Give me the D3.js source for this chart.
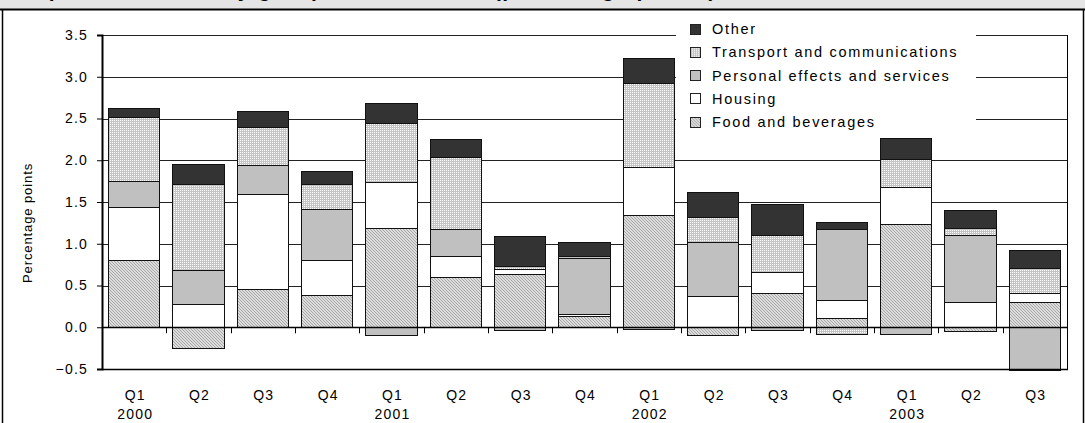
<!DOCTYPE html>
<html>
<head>
<meta charset="utf-8">
<script src="https://cdn.jsdelivr.net/npm/d3@7"></script>
<style>
  body { margin: 0; background: #fff; }
  svg { display: block; }
  text { font-family: Arial, "Liberation Sans", sans-serif; fill: #000; }
</style>
</head>
<body>
<svg id="chart" width="1085" height="423"></svg>
<script>
// Quarterly contributions to CPI inflation, percentage points
const quarters = ["Q1","Q2","Q3","Q4","Q1","Q2","Q3","Q4","Q1","Q2","Q3","Q4","Q1","Q2","Q3"];
const years    = ["2000","","","","2001","","","","2002","","","","2003","",""];

const seriesNames = ["Food and beverages", "Housing", "Personal effects and services",
                     "Transport and communications", "Other"];
const food      = [0.80, -0.25, 0.45, 0.38, 1.18, 0.60, 0.635, 0.125, 1.335, -0.10, 0.405, 0.11, 1.23, -0.055, 0.295];
const housing   = [0.635, 0.27, 1.135, 0.42, 0.55, 0.245, 0.06, 0.025, 0.575, 0.365, 0.25, 0.215, 0.44, 0.295, 0.11];
const personal  = [0.315, 0.41, 0.355, 0.615, -0.10, 0.32, -0.04, 0.675, -0.03, 0.65, -0.04, 0.84, -0.085, 0.805, -0.52];
const transport = [0.76, 1.03, 0.45, 0.295, 0.715, 0.865, 0.03, 0.02, 1.01, 0.295, 0.44, -0.085, 0.34, 0.085, 0.295];
const other     = [0.11, 0.24, 0.19, 0.15, 0.24, 0.22, 0.36, 0.17, 0.295, 0.30, 0.37, 0.085, 0.255, 0.21, 0.215];

const yTicks = [-0.5, 0, 0.5, 1, 1.5, 2, 2.5, 3, 3.5];
const titleText = "Graph 2: Inflation, by group contributions (percentage points)";
const yAxisTitle = "Percentage points";

const svg = d3.select("#chart");
const W = 1085, H = 423;
const plot = { left: 102, right: 1067, top: 35, bottom: 369 };

// Fill patterns for the textured series
const defs = svg.append("defs");
const pDots = defs.append("pattern").attr("id", "pat-transport")
  .attr("width", 2).attr("height", 2).attr("patternUnits", "userSpaceOnUse");
pDots.append("rect").attr("width", 2).attr("height", 2).attr("fill", "#c4c4c4");
pDots.append("rect").attr("width", 1).attr("height", 1).attr("fill", "#ffffff");

const pHatch = defs.append("pattern").attr("id", "pat-food")
  .attr("width", 3).attr("height", 3).attr("patternUnits", "userSpaceOnUse");
pHatch.append("rect").attr("width", 3).attr("height", 3).attr("fill", "#dcdcdc");
[[0,0],[1,1],[2,2]].forEach(([px,py]) =>
  pHatch.append("rect").attr("x", px).attr("y", py).attr("width", 1).attr("height", 1).attr("fill", "#a8a8a8"));

const fills = {
  "Food and beverages": "url(#pat-food)",
  "Housing": "#ffffff",
  "Personal effects and services": "#c0c0c0",
  "Transport and communications": "url(#pat-transport)",
  "Other": "#333333"
};

// Header band (the title sits in it, mostly above the top edge) and frame
svg.append("rect").attr("x", 0).attr("y", 0).attr("width", W).attr("height", 9).attr("fill", "#e5e5e5");
svg.append("text").attr("x", 8).attr("y", -3)
  .attr("font-size", 21).attr("font-weight", "bold").attr("letter-spacing", 1.5)
  .text(titleText);
svg.append("rect").attr("x", 0).attr("y", 9).attr("width", W).attr("height", H - 9).attr("fill", "#fff");
svg.append("line").attr("x1", 0).attr("x2", W).attr("y1", 9.5).attr("y2", 9.5)
  .attr("stroke", "#000").attr("stroke-width", 2);
svg.append("line").attr("x1", 2.5).attr("x2", 2.5).attr("y1", 9).attr("y2", H)
  .attr("stroke", "#000").attr("stroke-width", 1.5);
svg.append("line").attr("x1", 1083.5).attr("x2", 1083.5).attr("y1", 9).attr("y2", H)
  .attr("stroke", "#000").attr("stroke-width", 1.5);

// Scales
const x = d3.scaleBand().domain(d3.range(quarters.length))
  .range([plot.left, plot.right]).paddingInner(0.207).paddingOuter(0.1035);
const y = d3.scaleLinear().domain([-0.5, 3.5]).range([plot.bottom, plot.top]);

// Gridlines
const grid = svg.append("g").attr("transform", `translate(${plot.left},0)`)
  .call(d3.axisLeft(y).tickValues(yTicks).tickSize(-(plot.right - plot.left)).tickFormat(""));
grid.select(".domain").remove();
grid.selectAll(".tick line").attr("stroke", "#222").attr("stroke-width", 1).attr("shape-rendering", "crispEdges");

// Legend background hides the gridlines behind it
svg.append("rect").attr("x", 676).attr("y", 17).attr("width", 300).attr("height", 120).attr("fill", "#fff");

// Stacked bars
const table = quarters.map((q, i) => ({
  "Food and beverages": food[i],
  "Housing": housing[i],
  "Personal effects and services": personal[i],
  "Transport and communications": transport[i],
  "Other": other[i]
}));
const stacked = d3.stack().keys(seriesNames).offset(d3.stackOffsetDiverging)(table);

svg.append("g").selectAll("g").data(stacked).join("g")
  .attr("fill", d => fills[d.key])
  .selectAll("rect").data(d => d).join("rect")
  .attr("x", (d, i) => x(i))
  .attr("width", x.bandwidth())
  .attr("y", d => y(Math.max(d[0], d[1])))
  .attr("height", d => Math.abs(y(d[0]) - y(d[1])))
  .attr("stroke", "#111").attr("stroke-width", 1)
  .attr("shape-rendering", "crispEdges");

// Zero line with category separators
svg.append("line").attr("x1", plot.left).attr("x2", plot.right)
  .attr("y1", Math.round(y(0)) + 0.5).attr("y2", Math.round(y(0)) + 0.5)
  .attr("stroke", "#000").attr("stroke-width", 1.5);
const bounds = d3.range(1, quarters.length).map(i => x(i) - x.step() * x.paddingInner() / 2);
svg.append("g").selectAll("line").data(bounds).join("line")
  .attr("x1", d => Math.round(d) + 0.5).attr("x2", d => Math.round(d) + 0.5)
  .attr("y1", y(0)).attr("y2", y(0) + 6)
  .attr("stroke", "#000").attr("stroke-width", 1);

// Plot frame: left axis, right edge, bottom
svg.append("line").attr("x1", plot.right + 0.5).attr("x2", plot.right + 0.5)
  .attr("y1", plot.top).attr("y2", plot.bottom).attr("stroke", "#000").attr("stroke-width", 1);
svg.append("line").attr("x1", plot.left).attr("x2", plot.right + 1)
  .attr("y1", plot.bottom + 0.5).attr("y2", plot.bottom + 0.5).attr("stroke", "#000").attr("stroke-width", 1.5);

const yAxis = svg.append("g").attr("transform", `translate(${plot.left},0)`)
  .call(d3.axisLeft(y).tickValues(yTicks).tickSize(5).tickPadding(9).tickFormat(d3.format(".1f")));
yAxis.select(".domain").attr("stroke", "#000").attr("stroke-width", 2);
yAxis.selectAll(".tick line").attr("stroke", "#000");
yAxis.selectAll("text").attr("font-size", 14).attr("letter-spacing", 1.2)
  .attr("font-family", "Arial, 'Liberation Sans', sans-serif").attr("fill", "#000");

svg.append("text")
  .attr("transform", `translate(32,223) rotate(-90)`)
  .attr("text-anchor", "middle").attr("font-size", 13).attr("letter-spacing", 0.9)
  .text(yAxisTitle);

// Category labels
const xl = svg.append("g");
xl.selectAll("text.q").data(quarters).join("text").attr("class", "q")
  .attr("x", (d, i) => x(i) + x.bandwidth() / 2 + 1).attr("y", 400)
  .attr("text-anchor", "middle").attr("font-size", 14).attr("letter-spacing", 1.2)
  .text(d => d);
xl.selectAll("text.yr").data(years).join("text").attr("class", "yr")
  .attr("x", (d, i) => x(i) + x.bandwidth() / 2 + 1).attr("y", 419)
  .attr("text-anchor", "middle").attr("font-size", 14).attr("letter-spacing", 1.2)
  .text(d => d);

// Legend
const legendOrder = seriesNames.slice().reverse();
const leg = svg.append("g").selectAll("g").data(legendOrder).join("g")
  .attr("transform", (d, i) => `translate(690,${29 + i * 23.3})`);
leg.append("rect").attr("x", 0).attr("y", -5).attr("width", 10).attr("height", 10)
  .attr("fill", d => fills[d]).attr("stroke", "#222").attr("stroke-width", 1)
  .attr("shape-rendering", "crispEdges");
leg.append("text").attr("x", 22).attr("y", 5)
  .attr("font-size", 14.5).attr("letter-spacing", 1.7)
  .text(d => d);
</script>
</body>
</html>
